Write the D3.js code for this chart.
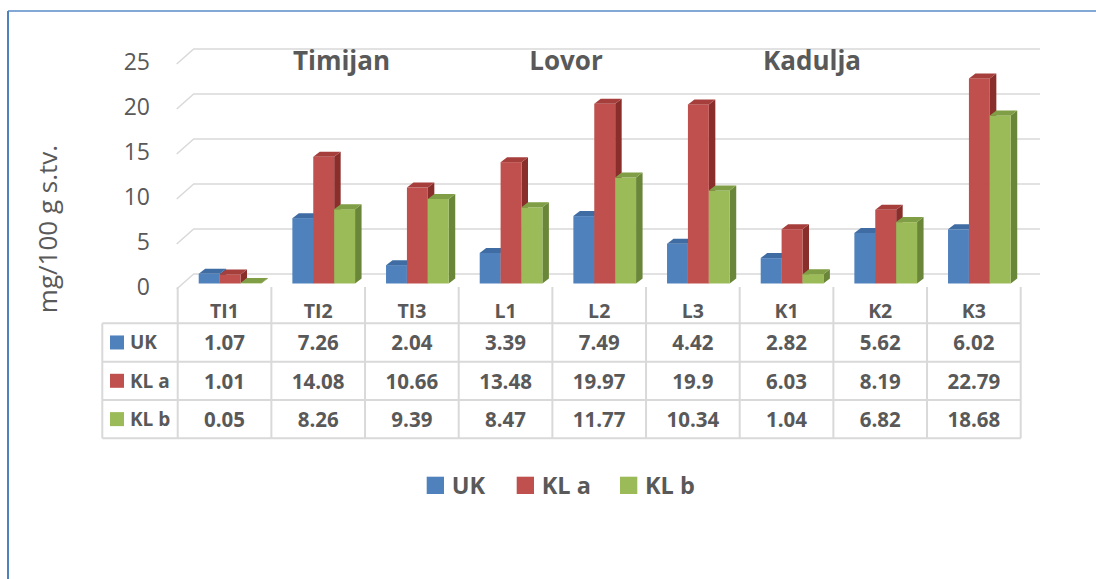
<!DOCTYPE html>
<html>
<head>
<meta charset="utf-8">
<script src="https://cdn.jsdelivr.net/npm/d3@7"></script>
<style>
  html, body { margin: 0; padding: 0; background: #fff; }
  svg { display: block; }
  text { font-family: "Open Sans", "Noto Sans", sans-serif; fill: #595959; }
</style>
</head>
<body>
<svg id="chart" width="1096" height="579"></svg>
<script>
// ---- data ----
const categories = ["TI1", "TI2", "TI3", "L1", "L2", "L3", "K1", "K2", "K3"];
const seriesNames = ["UK", "KL a", "KL b"];
const ukValues  = [1.07, 7.26, 2.04, 3.39, 7.49, 4.42, 2.82, 5.62, 6.02];
const klaValues = [1.01, 14.08, 10.66, 13.48, 19.97, 19.9, 6.03, 8.19, 22.79];
const klbValues = [0.05, 8.26, 9.39, 8.47, 11.77, 10.34, 1.04, 6.82, 18.68];
const yTicks = [0, 5, 10, 15, 20, 25];
const groupLabels = ["Timijan", "Lovor", "Kadulja"];
const yTitle = "mg/100 g s.tv.";

// ---- styles ----
const series = [
  { name: seriesNames[0], values: ukValues,  front: "#4F81BD", top: "#3E6CA3", side: "#345A88" },
  { name: seriesNames[1], values: klaValues, front: "#C0504D", top: "#A63F3C", side: "#8A2E2C" },
  { name: seriesNames[2], values: klbValues, front: "#9BBB59", top: "#7F9E45", side: "#6A8638" }
];
const textColor = "#595959";
const gridColor = "#D9D9D9";

const svg = d3.select("#chart");

// border (left + top)
svg.append("line").attr("x1", 8).attr("y1", 11).attr("x2", 1096).attr("y2", 11)
  .attr("stroke", "#5B8BC8").attr("stroke-width", 1.5);
svg.append("line").attr("x1", 8).attr("y1", 11).attr("x2", 8).attr("y2", 579)
  .attr("stroke", "#4F81BD").attr("stroke-width", 2);

// scales
const x = d3.scaleBand().domain(categories).range([177.7, 1020.7]);
const y = d3.scaleLinear().domain([0, 25]).range([283.5, 283.5 - 25 * 9.0]);
const backShift = -9.5;      // back wall offset (y)
const slantDx = 17, slantDy = 15;
const gridRight = 1040;
const depthDx = 6.5, depthDy = -5;
const barOffset = 21, barW = 20.9;

// gridlines (3D back wall + floor slant)
const grid = svg.append("g");
yTicks.forEach(v => {
  const yb = y(v) + backShift;
  grid.append("path")
    .attr("d", `M${x.range()[0] - 1},${yb + slantDy} L${x.range()[0] - 1 + slantDx},${yb} L${gridRight},${yb}`)
    .attr("fill", "none").attr("stroke", gridColor).attr("stroke-width", 1.5);
});

// y tick labels
const yAxis = d3.axisLeft(y).tickValues(yTicks).tickSize(0).tickPadding(0);
const yAxisG = svg.append("g").attr("transform", `translate(150,${backShift + slantDy - 1.5})`).call(yAxis);
yAxisG.select(".domain").remove();
yAxisG.selectAll("text")
  .attr("font-size", 23).attr("fill", textColor)
  .style("font-family", '"Open Sans", sans-serif');

// y title
svg.append("text")
  .attr("transform", "translate(47,229) rotate(-90)")
  .attr("text-anchor", "middle").attr("dominant-baseline", "central")
  .attr("font-size", 26).text(yTitle);

// group labels
const groupX = [341.5, 566, 812];
groupLabels.forEach((g, i) => {
  svg.append("text").attr("x", groupX[i]).attr("y", 70)
    .attr("text-anchor", "middle").attr("font-size", 26).attr("font-weight", 700)
    .text(g);
});

// bars
const bars = svg.append("g");
categories.forEach((c, ci) => {
  series.forEach((s, si) => {
    const v = s.values[ci];
    const x0 = x(c) + barOffset + si * barW;
    const x1 = x0 + barW;
    const yt = y(v), yb = y(0);
    const g = bars.append("g");
    // side face
    g.append("path")
      .attr("d", `M${x1},${yb} L${x1 + depthDx},${yb + depthDy} L${x1 + depthDx},${yt + depthDy} L${x1},${yt} Z`)
      .attr("fill", s.side);
    // front face
    g.append("rect").attr("x", x0).attr("y", yt).attr("width", barW).attr("height", Math.max(0, yb - yt))
      .attr("fill", s.front);
    // top face
    g.append("path")
      .attr("d", `M${x0},${yt} L${x0 + depthDx},${yt + depthDy} L${x1 + depthDx},${yt + depthDy} L${x1},${yt} Z`)
      .attr("fill", s.top);
  });
});

// data table
const rowTop = 323.3, rowH = 38.33;
const tableLeft = 102.3, tableRight = x.range()[1];
const headerTop = 287;
const table = svg.append("g");
for (let r = 0; r <= series.length; r++) {
  table.append("line")
    .attr("x1", tableLeft).attr("x2", tableRight)
    .attr("y1", rowTop + r * rowH).attr("y2", rowTop + r * rowH)
    .attr("stroke", gridColor).attr("stroke-width", 2);
}
table.append("line").attr("x1", tableLeft).attr("x2", tableLeft)
  .attr("y1", rowTop).attr("y2", rowTop + series.length * rowH)
  .attr("stroke", gridColor).attr("stroke-width", 2);
categories.concat([null]).forEach((c, i) => {
  const xx = c ? x(c) : x.range()[1];
  table.append("line").attr("x1", xx).attr("x2", xx)
    .attr("y1", headerTop).attr("y2", rowTop + series.length * rowH)
    .attr("stroke", gridColor).attr("stroke-width", 2);
});
// header labels
categories.forEach(c => {
  table.append("text").attr("x", x(c) + x.bandwidth() / 2).attr("y", 310)
    .attr("text-anchor", "middle").attr("dominant-baseline", "central")
    .attr("font-size", 19.5).attr("font-weight", 700).text(c);
});
// rows
series.forEach((s, si) => {
  const cy = rowTop + si * rowH + rowH / 2;
  table.append("rect").attr("x", 110).attr("y", cy - 7).attr("width", 14).attr("height", 14)
    .attr("fill", s.front);
  table.append("text").attr("x", 130).attr("y", cy)
    .attr("dominant-baseline", "central").attr("font-size", 19).attr("font-weight", 700)
    .text(s.name);
  categories.forEach((c, ci) => {
    table.append("text").attr("x", x(c) + x.bandwidth() / 2).attr("y", cy)
      .attr("text-anchor", "middle").attr("dominant-baseline", "central")
      .attr("font-size", 20.5).attr("font-weight", 700)
      .text(String(s.values[ci]));
  });
});

// legend
const legendX = [426.7, 516.7, 620];
series.forEach((s, si) => {
  svg.append("rect").attr("x", legendX[si]).attr("y", 476.7).attr("width", 17.3).attr("height", 17.3)
    .attr("fill", s.front);
  svg.append("text").attr("x", legendX[si] + 25).attr("y", 494)
    .attr("font-size", 23.5).attr("font-weight", 700).text(s.name);
});
</script>
</body>
</html>
